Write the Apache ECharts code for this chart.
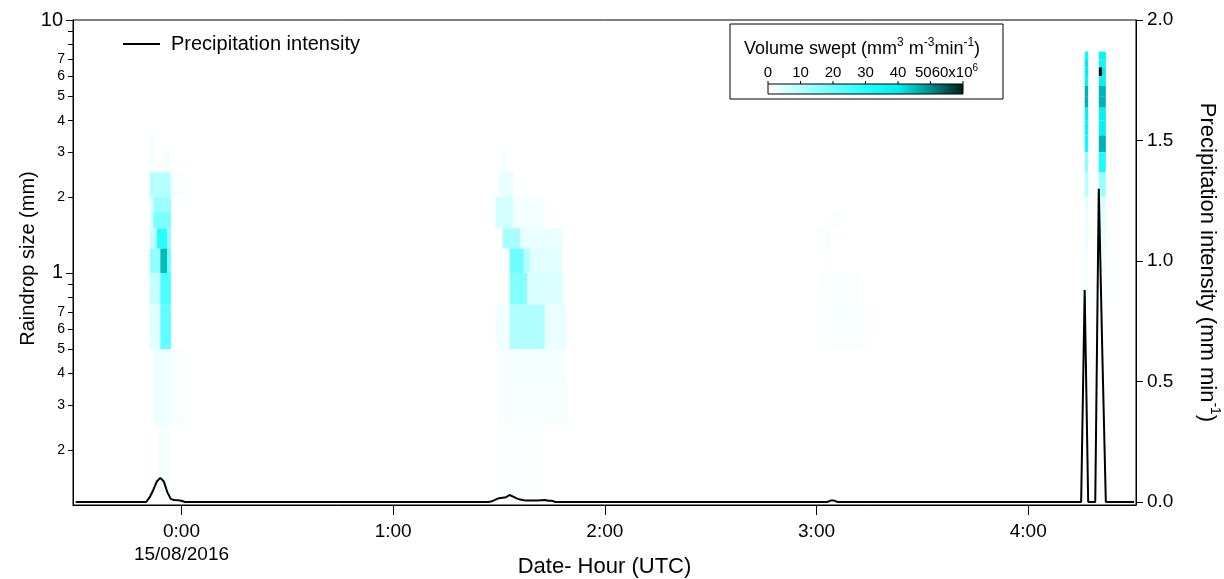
<!DOCTYPE html>
<html><head><meta charset="utf-8">
<script src="https://cdn.jsdelivr.net/npm/echarts@6/dist/echarts.min.js"></script>
<style>html,body{margin:0;padding:0;background:#fff}#c{width:1224px;height:579px}</style>
</head><body><div id="c"></div>
<script>
// ---------------- DATA ----------------
// Raindrop size class edges (mm)
const sizeEdges = [0.125,0.25,0.375,0.5,0.75,1,1.25,1.5,1.75,2,2.5,3,3.5,4,4.5,5,5.5,6,6.5,7,7.5,8];
// x axis: minutes from 15/08/2016 00:00 UTC
const xTickMinutes = [0, 60, 120, 180, 240];
const xTickLabels = ['0:00\n15/08/2016', '1:00', '2:00', '3:00', '4:00'];
const leftMajorTicks = [1, 10];
const leftMinorTicks = [0.2,0.3,0.4,0.5,0.6,0.7,0.8,0.9,2,3,4,5,6,7,8,9];
const leftMinorLabelled = [0.2,0.3,0.4,0.5,0.6,0.7,2,3,4,5,6,7];
const rightTicks = [0, 0.5, 1, 1.5, 2];
const colorTicks = [0, 10, 20, 30, 40, 50, 60];
const colorScale = ['#ffffff', '#b6ffff', '#6dffff', '#24ffff', '#00eeee', '#008c8c', '#001a1a'];

// Precipitation intensity (mm min-1)
const intensityMinutes = [-30,-10,-9,-8,-7,-6,-5,-4,-3,-2,-1,0,1,
  87,88,89,90,91,92,93,94,95,96,97,98,99,100,101,102,103,104,105,106,
  183,184,185,186, 255,256,257,259,260,261,262,270];
const intensityValues = [0,0,0.02,0.05,0.085,0.1,0.085,0.04,0.012,0.008,0.007,0.005,0,
  0,0.003,0.01,0.016,0.018,0.02,0.029,0.022,0.015,0.01,0.007,0.006,0.006,0.006,0.006,0.007,0.008,0.005,0.005,0,
  0,0.006,0.006,0, 0,0.88,0,0,1.3,0.62,0,0];

// Volume swept cells: [start minute, end minute, size class index, value (x10^6 mm3 m-3 min-1)]
const event1Cells = [
  [-9,-8,11,2],
  [-9,-8,10,2],[-5,-4,10,2],[-4,-3,10,1.5],
  [-9,-3,9,10],[-3,1,9,0.8],
  [-9,-8,8,5],[-8,-3,8,14],
  [-9,-8,7,5],[-8,-3,7,18],
  [-9,-7,6,8],[-7,-4,6,30],[-4,-3,6,15],
  [-9,-6,5,15],[-6,-4,5,45],[-4,-3,5,20],
  [-9,-6,4,8],[-6,-3,4,25],
  [-9,-6,3,4],[-6,-3,3,22],
  [-8,-3,2,2.5],[-3,1,2,0.8],
  [-8,-3,1,2.5],[-3,1,1,0.8],
  [-7,-3,0,1]
];
const event2Cells = [
  [91,92,10,2],
  [90,94,9,3],
  [89,94,8,6],[94,103,8,1.5],
  [89,94,7,6],[94,103,7,1.5],
  [91,96,6,12],[96,108,6,3],
  [93,97,5,20],[97,99,5,10],[99,108,5,4],
  [93,98,4,17],[98,108,4,5],
  [89,93,3,2],[93,103,3,11],[103,109,3,3],
  [90,109,2,1.2],
  [90,109,1,1],
  [91,101,0,0.4]
];
const event3Cells = [
  [184,187,7,0.8],[180,184,6,0.8],[183,184,5,0.6],[181,192,4,0.8],[182,194,3,0.8]
];
const event4Cells = [
  [256,257,19,35],[256,257,18,40],[256,257,17,40],[256,257,16,36],[256,257,15,46],[256,257,14,46],
  [256,257,13,38],[256,257,12,36],[256,257,11,34],[256,257,10,15],[256,257,9,10],[256,257,8,4],
  [256,257,7,3],[256,257,6,3],[256,257,5,2],[256,257,4,2],
  [260,262,19,38],[260,262,18,36],[260,261,17,60],[261,262,17,40],[260,262,16,38],[260,262,15,46],
  [260,262,14,46],[260,262,13,38],[260,262,12,38],[260,262,11,46],[260,262,10,32],[260,262,9,14],
  [260,262,8,5],[260,262,7,4],[260,262,6,3],[260,262,5,2],[260,262,4,1]
];

// ---------------- CHART ----------------
const FONT = 'Liberation Sans, Arial, sans-serif';
const allCells = event1Cells.concat(event2Cells, event3Cells, event4Cells)
  .map(c => [c[0], c[1], sizeEdges[c[2]], sizeEdges[c[2] + 1], c[3]]);
const lineData = intensityMinutes.map((t, i) => [t, intensityValues[i]]);

const X_MIN = -30.75, X_MAX = 270.55;
const Y_MIN = 0.121, Y_MAX = 10;
const R_MIN = -0.0124, R_MAX = 2;

const chart = echarts.init(document.getElementById('c'), null, {renderer: 'canvas'});

// colour bar legend (graphic)
const cbX = 768, cbY = 84, cbW = 195, cbH = 10;
const graphics = [
  {type: 'rect', shape: {x: 730, y: 24, width: 273, height: 75},
   style: {fill: '#fff', stroke: '#000', lineWidth: 1}, z: 10},
  {type: 'text', x: 744, y: 49, z: 11,
   style: {text: 'Volume swept (mm{sup|3} m{sup|-3}min{sup|-1})', font: '18px ' + FONT, fill: '#000',
     verticalAlign: 'middle',
     rich: {sup: {fontSize: 12, fontFamily: FONT, padding: [0, 0, 13, 0]}}}},
  {type: 'rect', shape: {x: cbX, y: cbY, width: cbW, height: cbH}, z: 11,
   style: {stroke: '#000', lineWidth: 1,
     fill: new echarts.graphic.LinearGradient(0, 0, 1, 0,
       colorScale.map((c, i) => ({offset: i / (colorScale.length - 1), color: c})))}}
];
colorTicks.forEach(v => {
  const x = cbX + v / 60 * cbW;
  graphics.push({type: 'line', z: 11, shape: {x1: x, y1: cbY - 3, x2: x, y2: cbY},
    style: {stroke: '#000', lineWidth: 1}});
});
[['0', 0], ['10', 10], ['20', 20], ['30', 30], ['40', 40]].forEach(l => {
  graphics.push({type: 'text', z: 11, x: cbX + l[1] / 60 * cbW, y: 73,
    style: {text: l[0], font: '15px ' + FONT, fill: '#000', align: 'center', verticalAlign: 'middle'}});
});
graphics.push({type: 'text', z: 11, x: 915, y: 73,
  style: {text: '5060x10{sup|6}', font: '15px ' + FONT, fill: '#000', verticalAlign: 'middle',
    rich: {sup: {fontSize: 10, fontFamily: FONT, padding: [0, 0, 10, 0]}}}});

const option = {
  animation: false,
  backgroundColor: '#fff',
  textStyle: {fontFamily: FONT, color: '#000'},
  grid: {left: 73, right: 88, top: 20, bottom: 74, show: true, borderColor: '#000', borderWidth: 1,
    backgroundColor: 'transparent', outerBoundsMode: 'none', containLabel: false},
  legend: {
    left: 118, top: 29, itemWidth: 37, itemHeight: 14, icon: 'path://M0,6 L37,6 L37,8 L0,8 Z',
    data: ['Precipitation intensity'],
    textStyle: {fontSize: 20, fontFamily: FONT, color: '#000', padding: [0, 0, 0, 6]},
    itemStyle: {color: '#000'}
  },
  visualMap: {
    type: 'continuous', show: false, min: 0, max: 60, dimension: 4, seriesIndex: 0,
    inRange: {color: colorScale}
  },
  xAxis: {
    type: 'value', min: X_MIN, max: X_MAX,
    name: 'Date- Hour (UTC)', nameLocation: 'middle', nameGap: 51, nameMoveOverlap: false,
    nameTextStyle: {fontSize: 22, fontFamily: FONT, color: '#000'},
    axisLine: {show: true, onZero: false, lineStyle: {color: '#000', width: 1}},
    axisTick: {show: true, length: 10, customValues: xTickMinutes, lineStyle: {color: '#000'}},
    axisLabel: {customValues: xTickMinutes, margin: 15, fontSize: 19, color: '#000',
      lineHeight: 23,
      formatter: v => xTickLabels[xTickMinutes.indexOf(Math.round(v))] || ''},
    splitLine: {show: false}
  },
  yAxis: [
    {
      type: 'log', min: Y_MIN, max: Y_MAX, position: 'left',
      name: 'Raindrop size (mm)', nameLocation: 'middle', nameGap: 35, nameMoveOverlap: false,
      nameTextStyle: {fontSize: 20, fontFamily: FONT, color: '#000', padding: [0, 0, 0, 8]},
      axisLine: {show: true, onZero: false, lineStyle: {color: '#000', width: 1}},
      axisTick: {show: true, length: 7, customValues: leftMajorTicks, lineStyle: {color: '#000'}},
      axisLabel: {customValues: leftMajorTicks, margin: 10, fontSize: 20, color: '#000',
        formatter: v => String(Math.round(v))},
      splitLine: {show: false}, minorTick: {show: false}
    },
    {
      type: 'log', min: Y_MIN, max: Y_MAX, position: 'left',
      axisLine: {show: false, onZero: false},
      axisTick: {show: true, length: 5, customValues: leftMinorTicks, lineStyle: {color: '#000'}},
      axisLabel: {customValues: leftMinorLabelled, margin: 8, fontSize: 14, color: '#000',
        formatter: v => String(v < 1 ? Math.round(v * 10) : Math.round(v))},
      splitLine: {show: false}
    },
    {
      type: 'value', min: R_MIN, max: R_MAX, position: 'right',
      name: 'Precipitation intensity (mm min{sup|-1})', nameLocation: 'middle', nameGap: 57, nameRotate: -90,
      nameMoveOverlap: false,
      nameTextStyle: {fontSize: 22, fontFamily: FONT, color: '#000',
        rich: {sup: {fontSize: 14, fontFamily: FONT, padding: [0, 0, 15, 0]}}},
      axisLine: {show: true, onZero: false, lineStyle: {color: '#000', width: 1}},
      axisTick: {show: true, length: 7, customValues: rightTicks, lineStyle: {color: '#000'}},
      axisLabel: {customValues: rightTicks, margin: 11, fontSize: 19, color: '#000',
        formatter: v => v.toFixed(1)},
      splitLine: {show: false}
    }
  ],
  series: [
    {
      type: 'custom', name: 'Volume swept', xAxisIndex: 0, yAxisIndex: 0,
      encode: {x: [0, 1], y: [2, 3]},
      clip: true,
      data: allCells,
      renderItem: function (params, api) {
        const p0 = api.coord([api.value(0), api.value(3)]);
        const p1 = api.coord([api.value(1), api.value(2)]);
        return {type: 'rect',
          shape: {x: p0[0], y: p0[1], width: p1[0] - p0[0], height: p1[1] - p0[1]},
          style: {fill: api.visual('color')}};
      },
      z: 1
    },
    {
      type: 'line', name: 'Precipitation intensity', xAxisIndex: 0, yAxisIndex: 2,
      data: lineData, symbol: 'none', showSymbol: false,
      lineStyle: {color: '#000', width: 2}, itemStyle: {color: '#000'}, z: 5
    }
  ],
  graphic: graphics
};
chart.setOption(option);
</script>
</body></html>
